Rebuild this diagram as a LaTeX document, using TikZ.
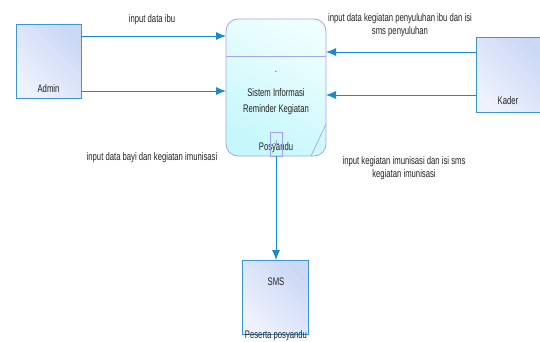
\documentclass[tikz,border=0pt]{standalone}
\usepackage{fontspec}
\setmainfont{Liberation Sans}[FakeStretch=0.70]
\usetikzlibrary{arrows.meta}
\definecolor{boxborder}{HTML}{3E95D1}
\definecolor{boxA}{HTML}{CBD8F5}
\definecolor{boxB}{HTML}{EEF2FD}
\definecolor{procborder}{HTML}{A3A3F0}
\definecolor{procA}{HTML}{EFFEFF}
\definecolor{procB}{HTML}{C6F7FB}
\definecolor{flow}{HTML}{1C8AC9}
\definecolor{txt}{HTML}{222222}
\tikzset{
  entity/.style={draw=boxborder, line width=1pt, left color=boxA, right color=boxB, shading angle=-45},
  flowline/.style={draw=flow, line width=0.9pt, -{Latex[length=10pt,width=8pt]}},
  lbl/.style={font=\fontsize{11}{12}\selectfont, text=txt, inner sep=0pt, align=center},
}
\begin{document}
\begin{tikzpicture}[x=1pt,y=-1pt]
\useasboundingbox (0,0) rectangle (540,342);
% entities
\path[entity] (16,25) rectangle (81,99);
\node[lbl] (admin) at (48.5,89) {Admin};
\coordinate (adminE1) at (81,36);
\coordinate (adminE2) at (81,91);
\begin{scope}
\clip (0,0) rectangle (540,342);
\path[entity] (476,38) rectangle (545,113);
\end{scope}
\node[lbl] (kader) at (508,101) {Kader};
\coordinate (kaderW1) at (476,52);
\coordinate (kaderW2) at (476,95);
\path[entity] (242,260) rectangle (308,334);
\node[lbl] (sms) at (276,282) {SMS};
\node[lbl, anchor=south] (peserta) at (276,341) {Peserta posyandu};
\coordinate (smsN) at (276,260);
% process
\path[draw=procborder, line width=0.8pt, left color=procA, right color=procB, shading angle=-30, rounded corners=12pt]
  (226,19) rectangle (326,156);
\draw[procborder, line width=0.7pt] (226,56) -- (326,56);
\draw[procborder, line width=0.7pt] (311,156) -- (326,124);
\node[lbl] (dot) at (276,72) {.};
\node[lbl] (proc1) at (276,93) {Sistem Informasi};
\node[lbl] (proc2) at (276,110) {Reminder Kegiatan};
\node[lbl] (proc3) at (276,148) {Posyandu};
\draw[procborder, line width=0.7pt] (270,132) rectangle (282,156);
\draw[procborder, line width=0.5pt] (276,140) -- (276,146) (273,143) -- (279,143);
\coordinate (procW1) at (226,36);
\coordinate (procW2) at (226,91);
\coordinate (procE1) at (326,52);
\coordinate (procE2) at (326,95);
\coordinate (procS) at (276,156);
% flows
\draw[flowline] (adminE1) -- (procW1);
\draw[flowline] (adminE2) -- (procW2);
\draw[flowline] (kaderW1) -- (procE1);
\draw[flowline] (kaderW2) -- (procE2);
\draw[flowline] (procS) -- (smsN);
% labels
\node[lbl] (l1) at (152,20) {input data ibu};
\node[lbl] (l2) at (400,25) {input data kegiatan penyuluhan ibu dan isi\\[1pt] sms penyuluhan};
\node[lbl] (l3) at (152,158) {input data bayi dan kegiatan imunisasi};
\node[lbl] (l4) at (404,168) {input kegiatan imunisasi dan isi sms\\[1pt] kegiatan imunisasi};
\end{tikzpicture}
\end{document}
